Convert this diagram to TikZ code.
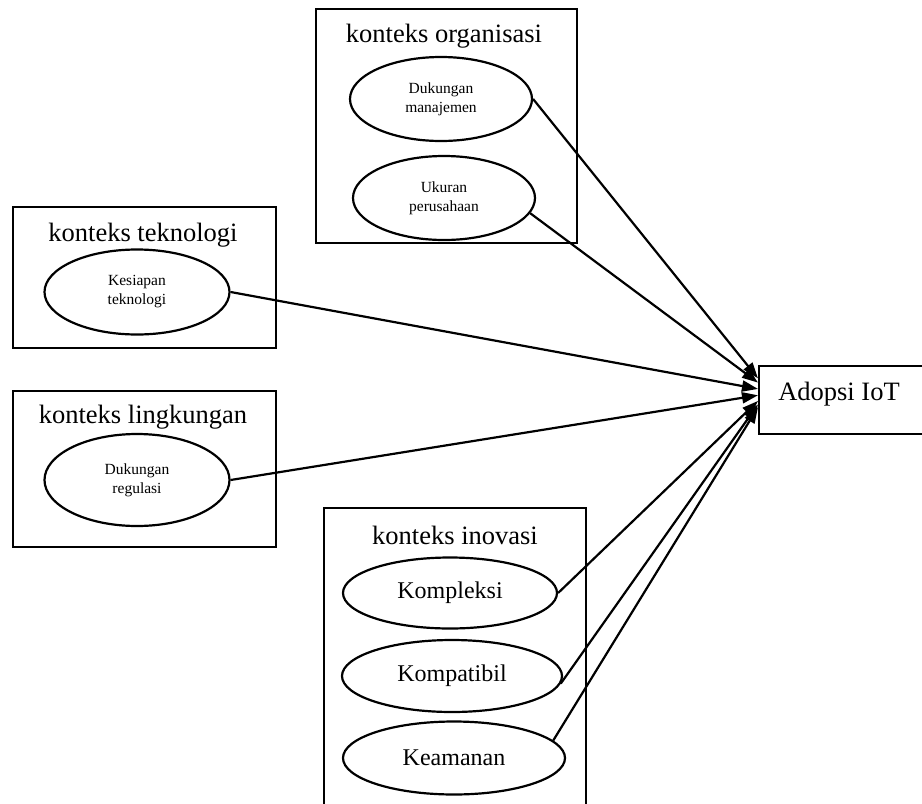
\documentclass[tikz,border=0pt]{standalone}
\usepackage{fontspec}
\setmainfont{Liberation Serif}
\usetikzlibrary{shapes.geometric,arrows.meta,calc}
\begin{document}
\begin{tikzpicture}[x=1pt,y=-1pt,
  box/.style={draw,line width=2.4pt,inner sep=0,anchor=north west},
  ttl/.style={font=\fontsize{26.5}{30}\selectfont,inner sep=0},
  ell/.style={draw,ellipse,line width=2.2pt,inner sep=0,align=center},
  sm/.style={font=\fontsize{15.5}{19}\selectfont},
  bg/.style={font=\fontsize{24}{28}\selectfont},
  con/.style={line width=2.2pt,-{Triangle[length=16pt,width=11pt]}}]
\useasboundingbox (0,0) rectangle (922,804);
\clip (0,0) rectangle (922,804);
% boxes
\node[box,minimum width=261pt,minimum height=234pt] (borg) at (315,8) {};
\node[box,minimum width=263pt,minimum height=141pt] (btek) at (12,206) {};
\node[box,minimum width=263pt,minimum height=156pt] (bling) at (12,390) {};
\node[box,minimum width=262pt,minimum height=330pt] (bino) at (323,507) {};
\node[box,minimum width=200pt,minimum height=68pt] (adopsi) at (758,365) {};
% titles
\node[ttl] (torg) at (444,36) {konteks organisasi};
\node[ttl] (ttek) at (143,235) {konteks teknologi};
\node[ttl] (tling) at (143,417) {konteks lingkungan};
\node[ttl] (tino) at (455,535) {konteks inovasi};
\node[ttl] (tadopsi) at (839,394) {Adopsi IoT};
% ellipses
\node[ell,sm,minimum width=182pt,minimum height=84pt] (man) at (441,99) {Dukungan\\manajemen};
\node[ell,sm,minimum width=182pt,minimum height=84pt] (uku) at (444,198) {Ukuran\\perusahaan};
\node[ell,sm,minimum width=185pt,minimum height=85pt] (kes) at (137,292) {Kesiapan\\teknologi};
\node[ell,sm,minimum width=185pt,minimum height=92pt] (reg) at (137,480) {Dukungan\\regulasi};
\node[ell,bg,minimum width=214pt,minimum height=71pt] (kom) at (450,593) {Kompleksi};
\node[ell,bg,minimum width=220pt,minimum height=72pt] (kpt) at (452,676) {Kompatibil};
\node[ell,bg,minimum width=222pt,minimum height=73pt] (kea) at (454,758) {Keamanan};
% targets
\coordinate (t1) at ($(adopsi.north west)!0.19!(adopsi.south west)$);
\coordinate (t2) at ($(adopsi.north west)!0.25!(adopsi.south west)$);
\coordinate (t3) at ($(adopsi.north west)!0.34!(adopsi.south west)$);
\coordinate (t4) at ($(adopsi.north west)!0.43!(adopsi.south west)$);
\coordinate (t5) at ($(adopsi.north west)!0.51!(adopsi.south west)$);
\coordinate (t6) at ($(adopsi.north west)!0.56!(adopsi.south west)$);
\coordinate (t7) at ($(adopsi.north west)!0.60!(adopsi.south west)$);
% connectors
\draw[con] (man.east) -- (t1);
\draw[con] (uku.-10) -- (t2);
\draw[con] (kes.east) -- (t3);
\draw[con] (reg.east) -- (t4);
\draw[con] (kom.east) -- (t5);
\draw[con] (kpt.-4) -- (t6);
\draw[con] (kea.10) -- (t7);
\end{tikzpicture}
\end{document}
